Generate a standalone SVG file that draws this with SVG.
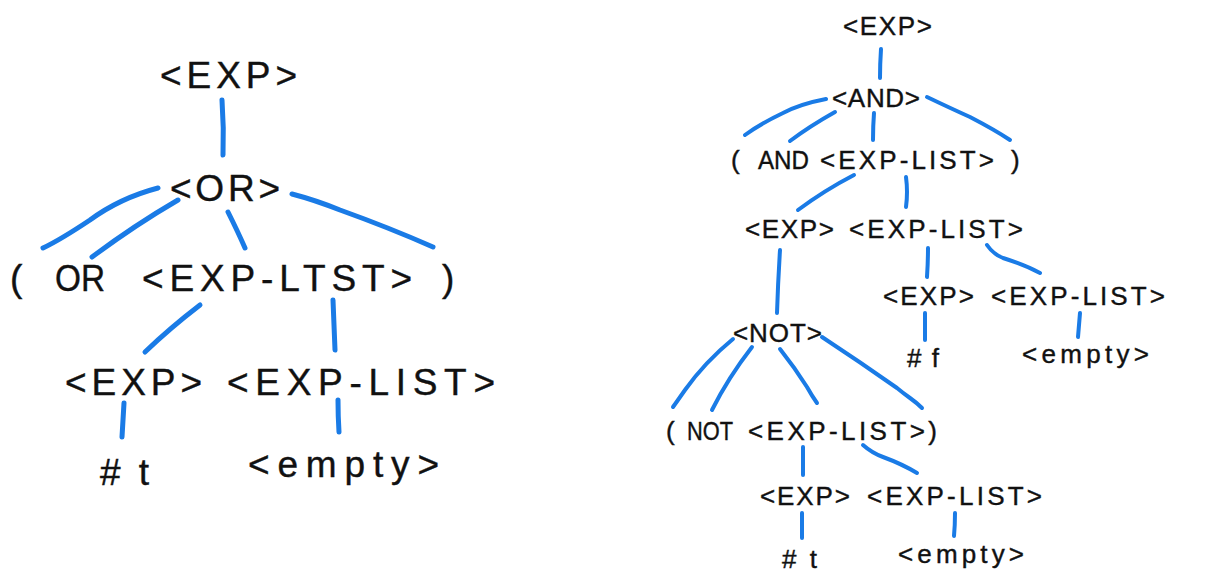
<svg xmlns="http://www.w3.org/2000/svg" width="1230" height="573" viewBox="0 0 1230 573">
  <style>
    .t { font-family: "Liberation Sans", "DejaVu Sans", sans-serif; fill: #111; stroke: #111; stroke-width: 0.4; }
    .big { font-size: 37px; }
    .sm { font-size: 26px; }
    .edge { fill: none; stroke: #1a7be6; stroke-linecap: round; stroke-linejoin: round; }
    .e1 { stroke-width: 5; }
    .e2 { stroke-width: 4; }
  </style>
  <rect width="1230" height="573" fill="#ffffff"/>

  <!-- connectors -->
  <g id="connectors">
    <!-- left tree -->
    <g class="edge e1">
      <path d="M222,100 Q224,128 223,155"/>
      <path d="M158,188 Q120,198 90,220 Q60,240 43,248"/>
      <path d="M178,200 Q135,225 92,257"/>
      <path d="M228,212 Q238,232 245,248"/>
      <path d="M292,194 Q315,200 340,210 Q390,228 433,247"/>
      <path d="M200,305 Q170,328 145,352"/>
      <path d="M333,300 Q334,325 335,350"/>
      <path d="M124,403 Q123,420 122,437"/>
      <path d="M338,400 Q338,416 339,432"/>
    </g>
    <!-- right tree -->
    <g class="edge e2">
      <path d="M881,49 Q880,64 880,78"/>
      <path d="M826,99 Q800,104 783,113 Q760,124 745,135"/>
      <path d="M835,112 Q810,126 790,141"/>
      <path d="M874,113 Q873,126 873,140"/>
      <path d="M927,97 Q950,108 970,117 Q995,130 1010,140"/>
      <path d="M854,175 Q825,190 798,210"/>
      <path d="M906,177 Q908,192 906,207"/>
      <path d="M780,250 Q778,282 777,313"/>
      <path d="M928,248 Q928,262 927,277"/>
      <path d="M987,245 Q993,254 1003,258 Q1025,265 1040,273"/>
      <path d="M925,313 Q925,327 925,340"/>
      <path d="M1080,313 Q1079,325 1078,337"/>
      <path d="M733,339 Q705,362 685,390 Q678,400 673,407"/>
      <path d="M752,347 Q728,378 712,410"/>
      <path d="M780,349 Q795,368 807,387 Q812,396 817,403"/>
      <path d="M822,337 Q860,362 897,388 Q903,393 910,398 Q917,403 922,408"/>
      <path d="M803,447 Q803,461 803,475"/>
      <path d="M863,445 Q872,453 883,457 Q902,464 917,473"/>
      <path d="M802,513 Q802,525 802,538"/>
      <path d="M955,513 Q955,525 954,536"/>
    </g>
  </g>

  <!-- left tree nodes -->
  <g id="l-exp"><text class="t big" x="160" y="88" textLength="137" lengthAdjust="spacing">&lt;EXP&gt;</text></g>
  <g id="l-or"><text class="t big" x="170" y="201" textLength="110" lengthAdjust="spacing">&lt;OR&gt;</text></g>
  <g id="l-lparen"><text class="t big" x="10" y="291">(</text></g>
  <g id="l-or-kw"><text class="t big" x="55" y="291" textLength="50" lengthAdjust="spacingAndGlyphs">OR</text></g>
  <g id="l-explist"><text class="t big" x="142" y="291" textLength="270" lengthAdjust="spacing">&lt;EXP-LTST&gt;</text></g>
  <g id="l-rparen"><text class="t big" x="442" y="291">)</text></g>
  <g id="l-exp2"><text class="t big" x="65" y="395" textLength="137" lengthAdjust="spacing">&lt;EXP&gt;</text></g>
  <g id="l-explist2"><text class="t big" x="227" y="395" textLength="268" lengthAdjust="spacing">&lt;EXP-LIST&gt;</text></g>
  <g id="l-true"><text class="t big" x="100" y="485" textLength="49" lengthAdjust="spacing">#t</text></g>
  <g id="l-empty"><text class="t big" x="248" y="477" textLength="191" lengthAdjust="spacing">&lt;empty&gt;</text></g>

  <!-- right tree nodes -->
  <g id="r-exp"><text class="t sm" x="843" y="35" textLength="89" lengthAdjust="spacing">&lt;EXP&gt;</text></g>
  <g id="r-and"><text class="t sm" x="832" y="107" textLength="88" lengthAdjust="spacing">&lt;AND&gt;</text></g>
  <g id="r-lparen"><text class="t sm" x="731" y="169">(</text></g>
  <g id="r-and-kw"><text class="t sm" x="758" y="169" textLength="51" lengthAdjust="spacingAndGlyphs">AND</text></g>
  <g id="r-explist"><text class="t sm" x="820" y="169" textLength="174" lengthAdjust="spacing">&lt;EXP-LIST&gt;</text></g>
  <g id="r-rparen"><text class="t sm" x="1011" y="169">)</text></g>
  <g id="r-exp2"><text class="t sm" x="745" y="238" textLength="89" lengthAdjust="spacing">&lt;EXP&gt;</text></g>
  <g id="r-explist2"><text class="t sm" x="849" y="238" textLength="174" lengthAdjust="spacing">&lt;EXP-LIST&gt;</text></g>
  <g id="r-exp3"><text class="t sm" x="883" y="305" textLength="91" lengthAdjust="spacing">&lt;EXP&gt;</text></g>
  <g id="r-explist3"><text class="t sm" x="991" y="305" textLength="174" lengthAdjust="spacing">&lt;EXP-LIST&gt;</text></g>
  <g id="r-false"><text class="t sm" x="907" y="367" textLength="32" lengthAdjust="spacing">#f</text></g>
  <g id="r-empty"><text class="t sm" x="1022" y="363" textLength="127" lengthAdjust="spacing">&lt;empty&gt;</text></g>
  <g id="r-not"><text class="t sm" x="733" y="342" textLength="89" lengthAdjust="spacing">&lt;NOT&gt;</text></g>
  <g id="r-lparen2"><text class="t sm" x="666" y="440">(</text></g>
  <g id="r-not-kw"><text class="t sm" x="687" y="440" textLength="46" lengthAdjust="spacingAndGlyphs">NOT</text></g>
  <g id="r-explist4"><text class="t sm" x="748" y="440" textLength="189" lengthAdjust="spacing">&lt;EXP-LIST&gt;)</text></g>
  <g id="r-exp4"><text class="t sm" x="760" y="505" textLength="90" lengthAdjust="spacing">&lt;EXP&gt;</text></g>
  <g id="r-explist5"><text class="t sm" x="867" y="505" textLength="175" lengthAdjust="spacing">&lt;EXP-LIST&gt;</text></g>
  <g id="r-true"><text class="t sm" x="782" y="568" textLength="35" lengthAdjust="spacing">#t</text></g>
  <g id="r-empty2"><text class="t sm" x="898" y="563" textLength="126" lengthAdjust="spacing">&lt;empty&gt;</text></g>
</svg>
